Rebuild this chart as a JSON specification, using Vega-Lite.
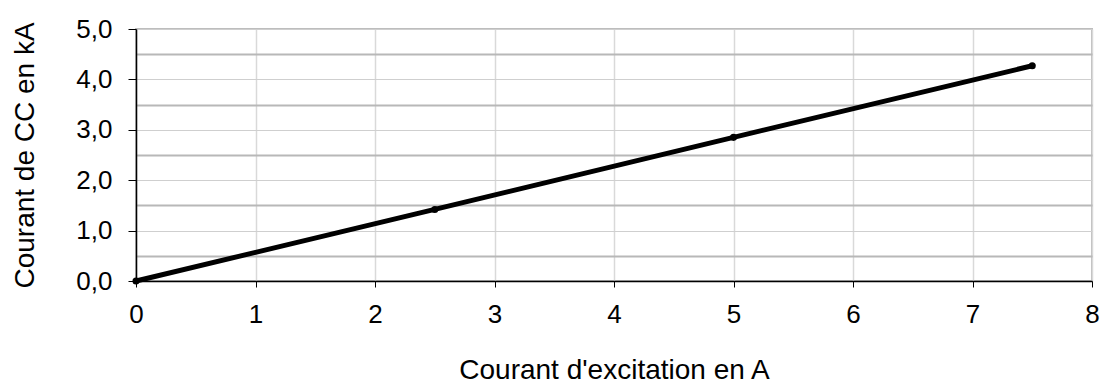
{
  "$schema": "https://vega.github.io/schema/vega-lite/v6.json",
  "width": 956,
  "height": 252,
  "autosize": {"type": "none"},
  "padding": {"left": 136, "top": 29, "right": 12, "bottom": 104},
  "background": "white",
  "config": {
    "font": "Liberation Sans",
    "view": {"stroke": "#bdbdbd", "strokeWidth": 2}
  },
  "data": {
    "values": [
      {"excitation": 0, "cc": 0},
      {"excitation": 2.5, "cc": 1.42},
      {"excitation": 5, "cc": 2.85},
      {"excitation": 7.5, "cc": 4.27}
    ]
  },
  "mark": {"type": "line", "color": "black", "strokeWidth": 5, "point": {"filled": true, "color": "black", "size": 50}},
  "encoding": {
    "x": {
      "field": "excitation",
      "type": "quantitative",
      "scale": {"domain": [0, 8], "nice": false, "zero": false},
      "axis": {
        "values": [0, 1, 2, 3, 4, 5, 6, 7, 8],
        "title": "Courant d'excitation en A",
        "titleFont": "Liberation Sans",
        "titleFontSize": 28,
        "titleFontWeight": "normal",
        "titleColor": "black",
        "titleX": 478,
        "titleY": 97,
        "titleAlign": "center",
        "titleBaseline": "alphabetic",
        "labelFont": "Liberation Sans",
        "labelFontSize": 26,
        "labelColor": "black",
        "labelFlush": false,
        "labelBaseline": "alphabetic",
        "labelPadding": 35,
        "tickSize": 6,
        "tickColor": "black",
        "domainColor": "black",
        "domainWidth": 1.5,
        "gridColor": "#d9d9d9",
        "gridWidth": 1.5
      }
    },
    "y": {
      "field": "cc",
      "type": "quantitative",
      "scale": {"domain": [0, 5], "nice": false, "zero": false},
      "axis": {
        "values": [0, 0.5, 1, 1.5, 2, 2.5, 3, 3.5, 4, 4.5, 5],
        "labelExpr": "datum.value % 1 === 0 ? replace(format(datum.value, '.1f'), '.', ',') : ''",
        "title": "Courant de CC en kA",
        "titleFont": "Liberation Sans",
        "titleFontSize": 28,
        "titleFontWeight": "normal",
        "titleColor": "black",
        "titleAngle": -90,
        "titleX": -103,
        "titleY": 126,
        "titleAlign": "center",
        "titleBaseline": "alphabetic",
        "labelFont": "Liberation Sans",
        "labelFontSize": 26,
        "labelColor": "black",
        "labelFlush": false,
        "labelPadding": 16,
        "tickSize": 8,
        "tickColor": "black",
        "tickOpacity": {"condition": {"test": "datum.value % 1 === 0", "value": 1}, "value": 0},
        "domainColor": "black",
        "domainWidth": 1.5,
        "gridColor": {"condition": {"test": "datum.value % 1 === 0", "value": "#cfcfcf"}, "value": "#b8b8b8"},
        "gridWidth": {"condition": {"test": "datum.value % 1 === 0", "value": 1}, "value": 2}
      }
    }
  }
}
